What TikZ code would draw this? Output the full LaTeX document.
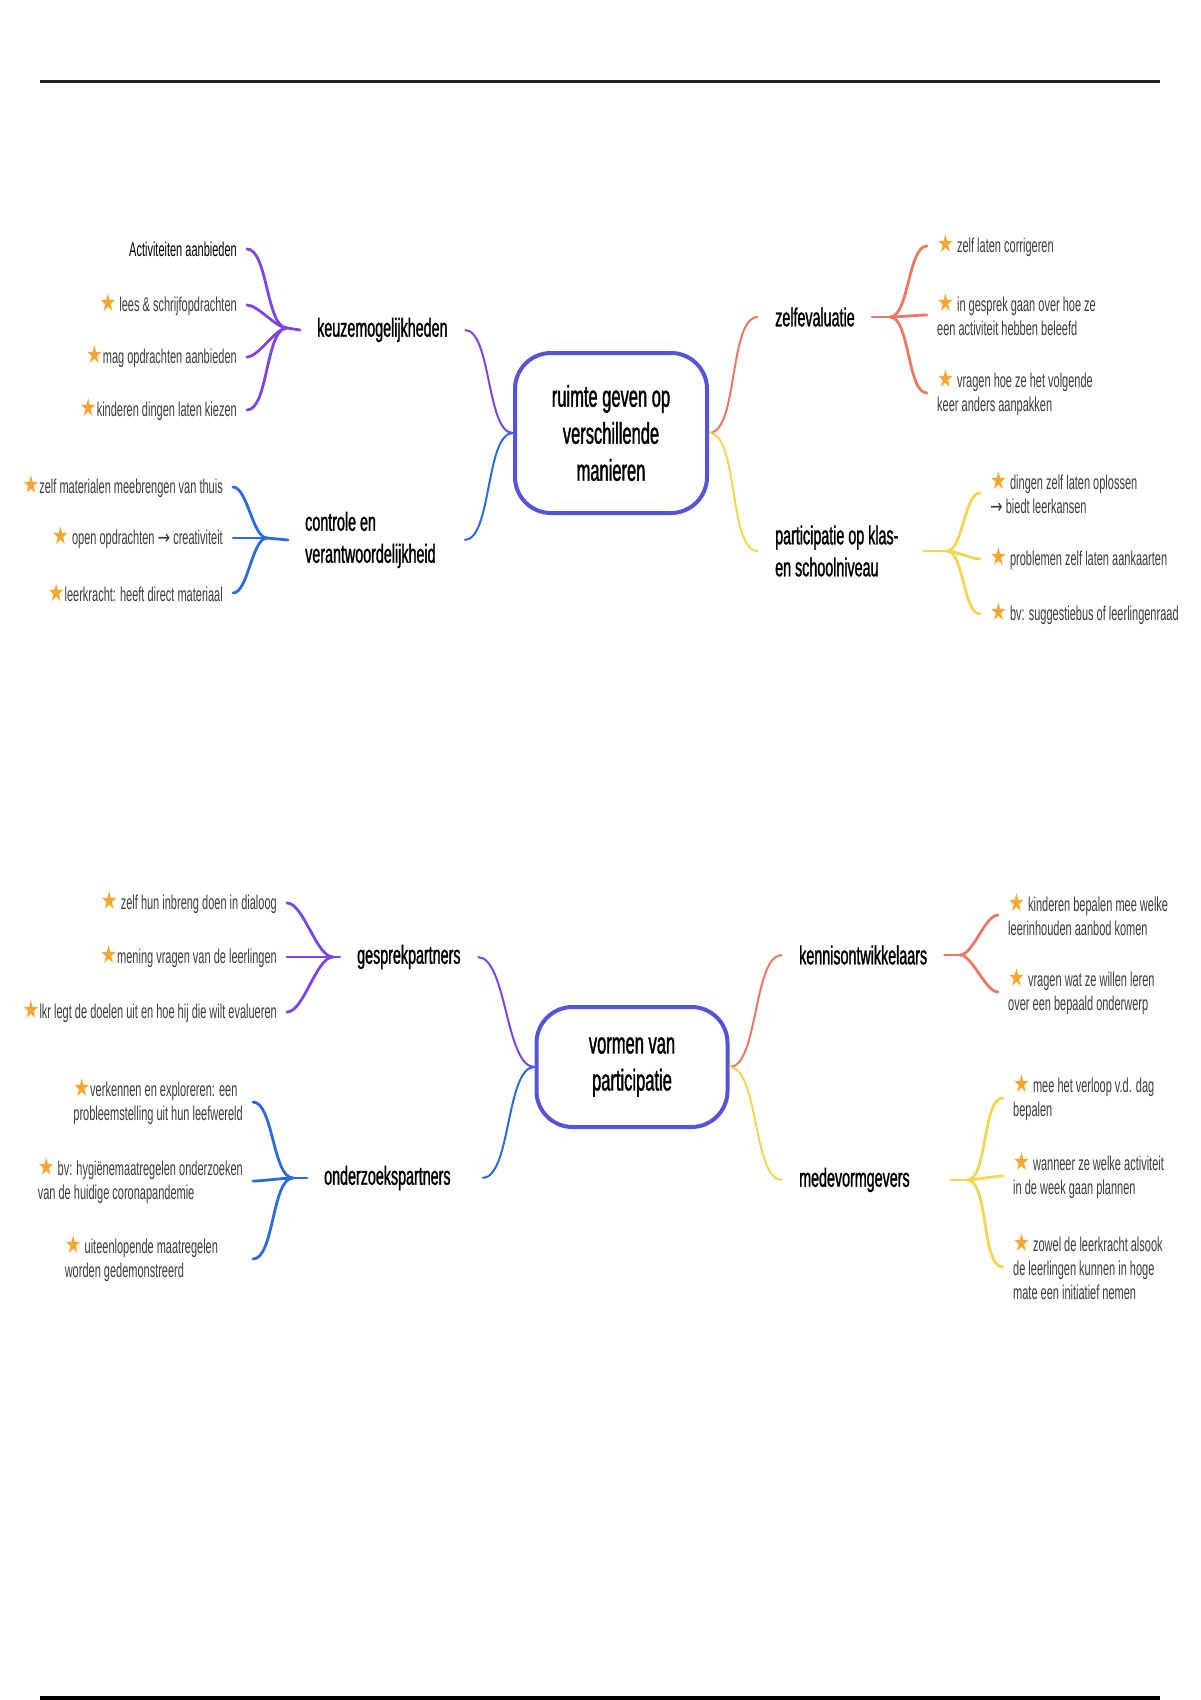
\documentclass[tikz,border=0pt]{standalone}
\usepackage{fontspec}
\newfontfamily\mapfont[FakeStretch=0.55]{Liberation Sans}
\newfontfamily\topicfont[FakeStretch=0.55, FakeBold=1.2]{Liberation Sans}
\newfontfamily\symfont[FakeStretch=0.75]{DejaVu Sans}
\usepackage{xcolor}
\usepackage{tikz}
\usetikzlibrary{calc}

\definecolor{boxblue}{RGB}{86,84,214}
\definecolor{branchpurple}{RGB}{125,70,228}
\definecolor{branchblue}{RGB}{44,108,218}
\definecolor{branchcoral}{RGB}{234,120,100}
\definecolor{branchyellow}{RGB}{245,212,82}
\definecolor{starorange}{RGB}{243,166,48}
\definecolor{leafgray}{RGB}{60,60,60}

\newcommand{\mapstar}{{\symfont\fontsize{25}{24}\selectfont\color{starorange}★}}
\newcommand{\maparrow}{{\symfont →}}

\begin{document}
\begin{tikzpicture}[
        x=1pt, y=-1pt,
        leaf/.style={font=\mapfont\fontsize{20}{24}\selectfont, text=leafgray,
          inner xsep=10pt, inner ysep=1pt},
        topic/.style={font=\topicfont\fontsize{26}{32}\selectfont,
          inner xsep=17pt, inner ysep=2pt, align=flush left},
        rootbox/.style={draw=boxblue, line width=4pt, rounded corners=36pt, fill=white,
          font=\topicfont\fontsize{30}{37}\selectfont, align=center,
          minimum width=192pt, minimum height=160pt},
        trunk/.style={line width=2pt},
        twig/.style={line width=2.8pt, line cap=round},
        toleft/.style={out=180, in=0, looseness=0.6},
        toright/.style={out=0, in=180, looseness=0.6}
      ]

        \useasboundingbox (0,0) rectangle (1200,1700);

        % Page rules ----------------------------------------------
        \draw[line width=3pt, black!85] (40,81) -- (1160,81);
        \draw[line width=6pt] (40,1699) -- (1160,1699);

        % Upper map: centre -----------------------------------------
        \node[rootbox] (ruimte) at (611,433) {ruimte geven op\\verschillende\\manieren};

        % Upper map: main topics
        \node[topic, anchor=west] (keuze) at (300,330) {keuzemogelijkheden};
        \node[topic, anchor=west, text width=142pt] (controle) at (288,540) {controle en\\verantwoordelijkheid};
        \node[topic, anchor=west] (zelfeval) at (758,317) {zelfevaluatie};
        \node[topic, anchor=west, text width=131pt] (partic) at (758,551) {participatie op klas-\\en schoolniveau};

        \draw[trunk, branchpurple] (ruimte.west) to[toleft] (keuze.east);
        \draw[trunk, branchblue]   (ruimte.west) to[toleft] (controle.east);
        \draw[trunk, branchcoral]  (ruimte.east) to[toright] (zelfeval.west);
        \draw[trunk, branchyellow] (ruimte.east) to[toright] (partic.west);

        % keuzemogelijkheden -----------------------------------------
        \coordinate (keuzeJ) at (287,328);  % fan point

        \node[leaf, anchor=east, text=black] (k1) at (247,249) {Activiteiten aanbieden};
        \node[leaf, anchor=east] (k2) at (247,305) {\mapstar\ lees \& schrijfopdrachten};
        \node[leaf, anchor=east] (k3) at (247,357) {\mapstar mag opdrachten aanbieden};
        \node[leaf, anchor=east] (k4) at (247,410) {\mapstar kinderen dingen laten kiezen};

        \draw[twig, branchpurple] (keuze.west) -- (keuzeJ);
        \draw[twig, branchpurple] (keuzeJ) to[toleft] (k1.east);
        \draw[twig, branchpurple] (keuzeJ) to[toleft] (k2.east);
        \draw[twig, branchpurple] (keuzeJ) to[toleft] (k3.east);
        \draw[twig, branchpurple] (keuzeJ) to[toleft] (k4.east);

        % controle en verantwoordelijkheid ---------------------------
        \coordinate (controleJ) at (267,538);  % fan point

        \node[leaf, anchor=east] (c1) at (233,487) {\mapstar zelf materialen meebrengen van thuis};
        \node[leaf, anchor=east] (c2) at (233,538) {\mapstar\ open opdrachten \maparrow\ creativiteit};
        \node[leaf, anchor=east] (c3) at (233,593) {\mapstar leerkracht: heeft direct materiaal};

        \draw[twig, branchblue] (controle.west) -- (controleJ);
        \draw[twig, branchblue] (controleJ) to[toleft] (c1.east);
        \draw[twig, branchblue] (controleJ) to[toleft] (c2.east);
        \draw[twig, branchblue] (controleJ) to[toleft] (c3.east);

        % zelfevaluatie ----------------------------------------------
        \coordinate (zelfevalJ) at (890,317);  % fan point

        \node[leaf, anchor=west] (z1) at (927,246) {\mapstar\ zelf laten corrigeren};
        \node[leaf, anchor=west, align=left] (z2) at (927,315)
          {\mapstar\ in gesprek gaan over hoe ze\\een activiteit hebben beleefd};
        \node[leaf, anchor=west, align=left] (z3) at (927,393)
          {\mapstar\ vragen hoe ze het volgende\\keer anders aanpakken};

        \draw[twig, branchcoral] (zelfeval.east) -- (zelfevalJ);
        \draw[twig, branchcoral] (zelfevalJ) to[toright] (z1.west);
        \draw[twig, branchcoral] (zelfevalJ) to[toright] (z2.west);
        \draw[twig, branchcoral] (zelfevalJ) to[toright] (z3.west);

        % participatie op klas- en schoolniveau ----------------------
        \coordinate (particJ) at (947,551);  % fan point

        \node[leaf, anchor=west, align=left] (p1) at (980,493)
          {\mapstar\ dingen zelf laten oplossen\\\maparrow\ biedt leerkansen};
        \node[leaf, anchor=west] (p2) at (980,559) {\mapstar\ problemen zelf laten aankaarten};
        \node[leaf, anchor=west] (p3) at (980,614) {\mapstar\ bv: suggestiebus of leerlingenraad};

        \draw[twig, branchyellow] (partic.east) -- (particJ);
        \draw[twig, branchyellow] (particJ) to[toright] (p1.west);
        \draw[twig, branchyellow] (particJ) to[toright] (p2.west);
        \draw[twig, branchyellow] (particJ) to[toright] (p3.west);

        % Lower map: centre ------------------------------------------
        \node[rootbox, minimum width=191pt, minimum height=120pt] (vormen) at (632,1067)
          {vormen van\\participatie};

        % Lower map: main topics
        \node[topic, anchor=west] (gesprek) at (340,957) {gesprekpartners};
        \node[topic, anchor=west, text width=141pt] (onderzoek) at (307,1178) {onderzoekspartners};
        \node[topic, anchor=west] (kennis) at (782,955) {kennisontwikkelaars};
        \node[topic, anchor=west, text width=134pt] (medevorm) at (782,1180) {medevormgevers};

        \draw[trunk, branchpurple] (vormen.west) to[toleft] (gesprek.east);
        \draw[trunk, branchblue]   (vormen.west) to[toleft] (onderzoek.east);
        \draw[trunk, branchcoral]  (vormen.east) to[toright] (kennis.west);
        \draw[trunk, branchyellow] (vormen.east) to[toright] (medevorm.west);

        % gesprekpartners --------------------------------------------
        \coordinate (gesprekJ) at (333,957);  % fan point

        \node[leaf, anchor=east] (g1) at (287,903) {\mapstar\ zelf hun inbreng doen in dialoog};
        \node[leaf, anchor=east] (g2) at (287,957) {\mapstar mening vragen van de leerlingen};
        \node[leaf, anchor=east] (g3) at (287,1012) {\mapstar lkr legt de doelen uit en hoe hij die wilt evalueren};

        \draw[twig, branchpurple] (gesprek.west) -- (gesprekJ);
        \draw[twig, branchpurple] (gesprekJ) to[toleft] (g1.east);
        \draw[twig, branchpurple] (gesprekJ) to[toleft] (g2.east);
        \draw[twig, branchpurple] (gesprekJ) to[toleft] (g3.east);

        % onderzoekspartners -----------------------------------------
        \coordinate (onderzoekJ) at (293,1178);  % fan point

        \node[leaf, anchor=east, align=left] (o1) at (253,1102)
          {\mapstar verkennen en exploreren: een\\probleemstelling uit hun leefwereld};
        \node[leaf, anchor=east, align=left] (o2) at (253,1181)
          {\mapstar\ bv: hygiënemaatregelen onderzoeken\\van de huidige coronapandemie};
        \node[leaf, anchor=east, align=flush left, text width=178pt] (o3) at (253,1259)
          {\mapstar\ uiteenlopende maatregelen\\worden gedemonstreerd};

        \draw[twig, branchblue] (onderzoek.west) -- (onderzoekJ);
        \draw[twig, branchblue] (onderzoekJ) to[toleft] (o1.east);
        \draw[twig, branchblue] (onderzoekJ) to[toleft] (o2.east);
        \draw[twig, branchblue] (onderzoekJ) to[toleft] (o3.east);

        % kennisontwikkelaars ----------------------------------------
        \coordinate (kennisJ) at (960,955);  % fan point

        \node[leaf, anchor=west, align=left] (ke1) at (998,915)
          {\mapstar\ kinderen bepalen mee welke\\leerinhouden aanbod komen};
        \node[leaf, anchor=west, align=left] (ke2) at (998,992)
          {\mapstar\ vragen wat ze willen leren\\over een bepaald onderwerp};

        \draw[twig, branchcoral] (kennis.east) -- (kennisJ);
        \draw[twig, branchcoral] (kennisJ) to[toright] (ke1.west);
        \draw[twig, branchcoral] (kennisJ) to[toright] (ke2.west);

        % medevormgevers ---------------------------------------------
        \coordinate (medevormJ) at (967,1180);  % fan point

        \node[leaf, anchor=west, align=left] (m1) at (1003,1098)
          {\mapstar\ mee het verloop v.d. dag\\bepalen};
        \node[leaf, anchor=west, align=left] (m2) at (1003,1176)
          {\mapstar\ wanneer ze welke activiteit\\in de week gaan plannen};
        \node[leaf, anchor=west, align=left] (m3) at (1003,1267)
          {\mapstar\ zowel de leerkracht alsook\\de leerlingen kunnen in hoge\\mate een initiatief nemen};

        \draw[twig, branchyellow] (medevorm.east) -- (medevormJ);
        \draw[twig, branchyellow] (medevormJ) to[toright] (m1.west);
        \draw[twig, branchyellow] (medevormJ) to[toright] (m2.west);
        \draw[twig, branchyellow] (medevormJ) to[toright] (m3.west);

      \end{tikzpicture}
\end{document}
